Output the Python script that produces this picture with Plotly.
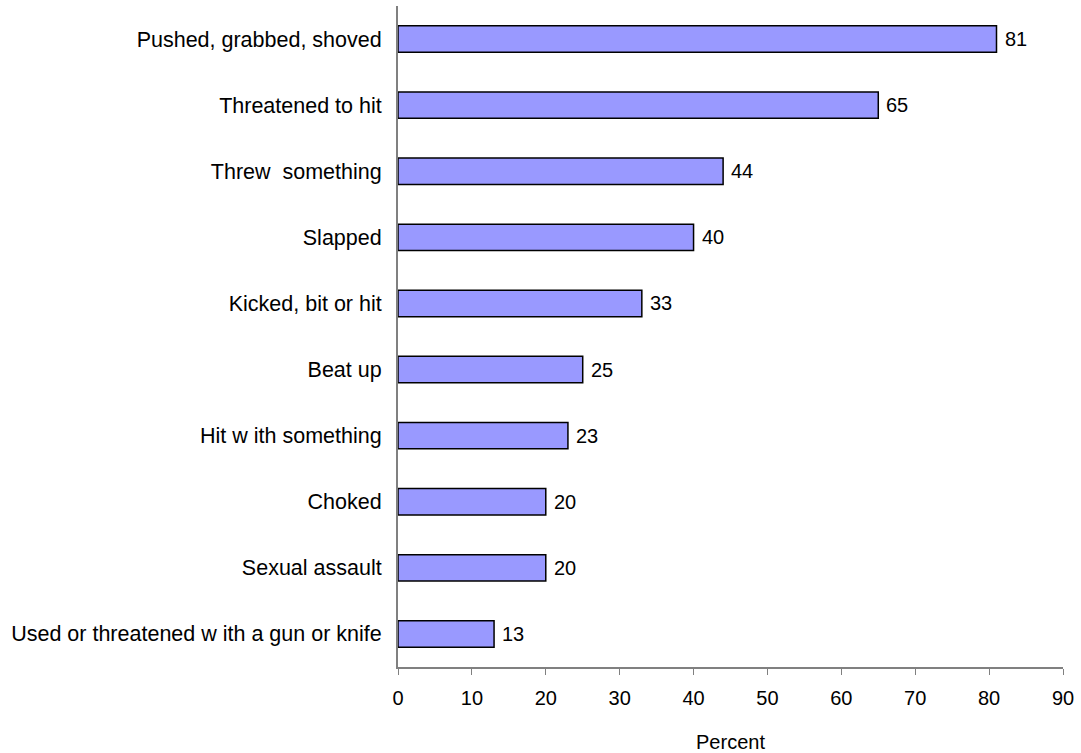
import plotly.graph_objects as go

categories = [
    "Pushed, grabbed, shoved",
    "Threatened to hit",
    "Threw  something",
    "Slapped",
    "Kicked, bit or hit",
    "Beat up",
    "Hit w ith something",
    "Choked",
    "Sexual assault",
    "Used or threatened w ith a gun or knife",
]
values = [81, 65, 44, 40, 33, 25, 23, 20, 20, 13]
x_ticks = [0, 10, 20, 30, 40, 50, 60, 70, 80, 90]

FONT = "Liberation Sans, Arial, sans-serif"

fig = go.Figure(go.Bar(
    y=categories,
    x=values,
    orientation="h",
    width=0.4,
    marker=dict(color="#9999FF", line=dict(color="black", width=1.5)),
    hoverinfo="skip",
))

for c, v in zip(categories, values):
    fig.add_annotation(
        x=v, y=c, text=str(v), showarrow=False,
        xanchor="left", yanchor="middle", xshift=6,
        font=dict(size=20, color="black", family=FONT),
    )

fig.update_layout(
    width=1081,
    height=753,
    margin=dict(l=398, r=18, t=6, b=86),
    plot_bgcolor="white",
    paper_bgcolor="white",
    font=dict(family=FONT, size=20, color="black"),
    showlegend=False,
)
fig.update_xaxes(
    range=[0, 90],
    tickvals=x_ticks,
    showgrid=False,
    zeroline=False,
    showline=True,
    linecolor="#808080",
    linewidth=2,
    ticks="outside",
    ticklen=6,
    tickcolor="#808080",
    tickfont=dict(size=20),
    ticklabelstandoff=6,
    automargin=False,
    title=dict(text="Percent", font=dict(size=20), standoff=28),
)
fig.update_yaxes(
    categoryorder="array",
    categoryarray=categories[::-1],
    range=[-0.5, 9.5],
    showgrid=False,
    zeroline=False,
    showline=True,
    linecolor="#808080",
    linewidth=2,
    ticks="",
    tickfont=dict(size=21.5),
    ticklabelstandoff=10,
    automargin=False,
)

fig.write_html(
    "out.html",
    config={"displayModeBar": False},
    post_script="document.body.style.margin='0';document.body.style.overflow='hidden';",
)
